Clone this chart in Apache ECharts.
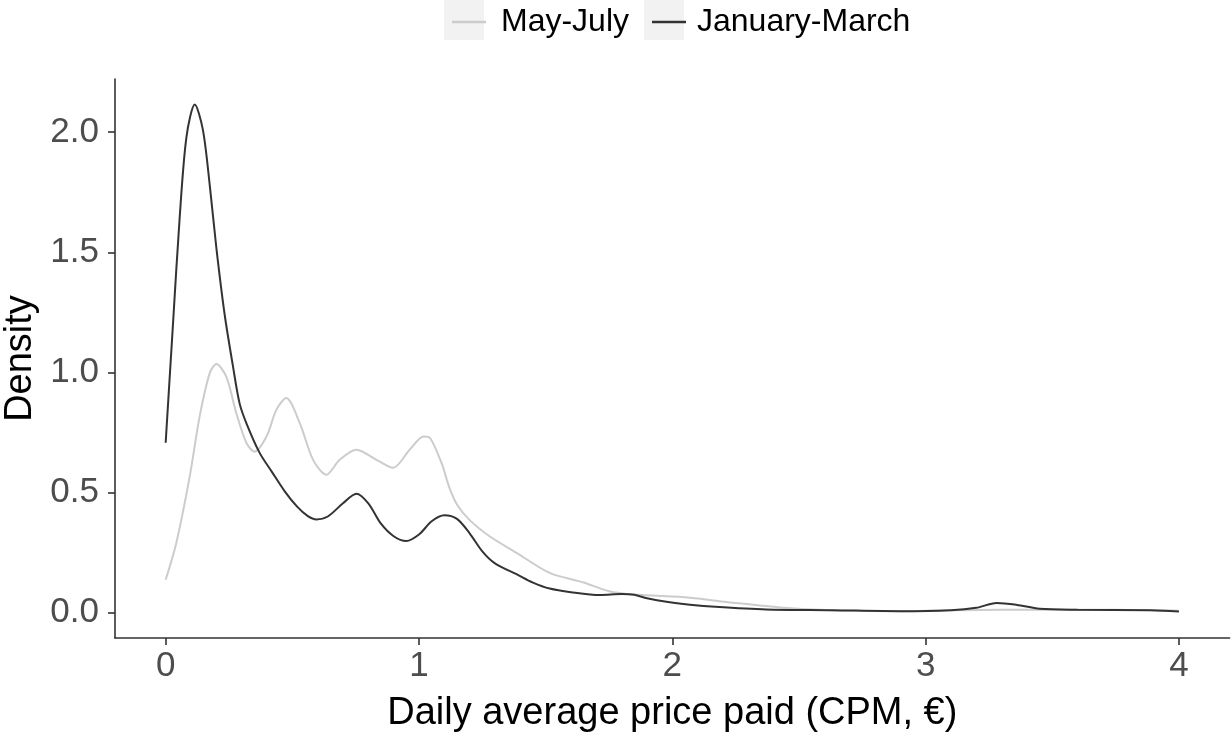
<!DOCTYPE html>
<html>
<head>
<meta charset="utf-8">
<script src="https://cdn.jsdelivr.net/npm/echarts@6/dist/echarts.min.js"></script>
<style>
  html, body { margin: 0; padding: 0; background: #fff; }
  #container1 { width: 1232px; height: 734px; }
</style>
</head>
<body>
<div id="container1"></div>
<script>
// 数据
var xTicks = [0, 1, 2, 3, 4];
var yTicks = [0, 0.5, 1, 1.5, 2];

// May-July
var mayX = [0, 0.042, 0.095, 0.134, 0.174, 0.2, 0.24, 0.279, 0.319, 0.351, 0.398, 0.437, 0.476, 0.529, 0.582, 0.634,
    0.687, 0.753, 0.832, 0.898, 0.963, 1.019, 1.045, 1.09, 1.12, 1.15, 1.2, 1.28, 1.385, 1.516, 1.65, 1.75, 1.85, 2.07,
    2.24, 2.44, 2.63, 2.9, 3.0, 3.3, 3.6, 3.89, 4.0];
var mayY = [0.137, 0.29, 0.567, 0.816, 0.997, 1.035, 0.98, 0.83, 0.706, 0.67, 0.733, 0.844, 0.893, 0.79, 0.636, 0.574,
    0.636, 0.678, 0.636, 0.603, 0.678, 0.733, 0.725, 0.62, 0.52, 0.45, 0.385, 0.317, 0.249, 0.165, 0.125, 0.089, 0.075, 0.062,
    0.041, 0.02, 0.01, 0.006, 0.008, 0.012, 0.012, 0.01, 0.008];

// January-March
var janX = [0, 0.03, 0.055, 0.082, 0.115, 0.147, 0.174, 0.2, 0.233, 0.265, 0.292, 0.32, 0.371, 0.42, 0.47, 0.52,
    0.56, 0.595, 0.64, 0.7, 0.753, 0.8, 0.85, 0.9, 0.95, 1.0, 1.05, 1.1, 1.15, 1.2, 1.25, 1.3, 1.385, 1.45, 1.516,
    1.6, 1.714, 1.8, 1.85, 1.9, 1.977, 2.07, 2.17, 2.37, 2.63, 2.9, 3.1, 3.2, 3.28, 3.36, 3.45, 3.6, 3.89, 4.0];
var janY = [0.707, 1.22, 1.64, 1.98, 2.115, 2.01, 1.78, 1.52, 1.24, 1.03, 0.87, 0.785, 0.665, 0.585, 0.505, 0.44,
    0.403, 0.388, 0.40, 0.455, 0.495, 0.455, 0.37, 0.318, 0.298, 0.325, 0.38, 0.405, 0.39, 0.33, 0.255, 0.205, 0.16, 0.125, 0.10,
    0.085, 0.073, 0.077, 0.074, 0.06, 0.045, 0.033, 0.024, 0.013, 0.01, 0.006, 0.01, 0.02, 0.04, 0.032, 0.016, 0.012, 0.01, 0.005];

function pairs(xs, ys) {
    var out = [];
    for (var i = 0; i < xs.length; i++) {
        out.push([xs[i], ys[i]]);
    }
    return out;
}

var lineIcon = 'path://M0,0H34V2.4H0Z';
var fontName = 'Liberation Sans, Arial, sans-serif';

var myChart = echarts.init(document.getElementById('container1'));
var option = {
    animation: false,
    backgroundColor: '#ffffff',
    textStyle: { fontFamily: fontName },
    graphic: [
        { type: 'rect', left: 444, top: 0, shape: { width: 40, height: 40 }, style: { fill: '#f2f2f2' }, z: -1 },
        { type: 'rect', left: 644, top: 0, shape: { width: 40, height: 40 }, style: { fill: '#f2f2f2' }, z: -1 }
    ],
    legend: [
        {
            data: ['May-July'],
            left: 447, top: 1,
            icon: lineIcon, itemWidth: 34, itemHeight: 3,
            textStyle: { fontSize: 32, color: '#000', padding: [0, 0, 0, 10], fontFamily: fontName }
        },
        {
            data: ['January-March'],
            left: 647, top: 1,
            icon: lineIcon, itemWidth: 34, itemHeight: 3,
            textStyle: { fontSize: 32, color: '#000', padding: [0, 0, 0, 6], fontFamily: fontName }
        }
    ],
    grid: {
        left: 115,
        right: 2.4,
        top: 79,
        bottom: 96,
        containLabel: false,
        outerBoundsMode: 'none'
    },
    xAxis: {
        type: 'value',
        min: -0.2,
        max: 4.2,
        name: 'Daily average price paid (CPM, €)',
        nameLocation: 'middle',
        nameGap: 57,
        nameTextStyle: { fontSize: 38, color: '#000', fontFamily: fontName },
        splitLine: { show: false },
        axisLine: { show: true, onZero: false, lineStyle: { color: '#333', width: 1.6 } },
        axisTick: { show: true, customValues: xTicks, length: 7, lineStyle: { color: '#333', width: 1.6 } },
        axisLabel: {
            customValues: xTicks,
            margin: 11,
            fontSize: 35,
            color: '#4d4d4d',
            fontFamily: fontName
        }
    },
    yAxis: {
        type: 'value',
        min: -0.1058,
        max: 2.2216,
        name: 'Density',
        nameLocation: 'middle',
        nameGap: 74,
        nameRotate: 90,
        nameTextStyle: { fontSize: 38, color: '#000', fontFamily: fontName },
        splitLine: { show: false },
        axisLine: { show: true, onZero: false, lineStyle: { color: '#333', width: 1.6 } },
        axisTick: { show: true, customValues: yTicks, length: 7, lineStyle: { color: '#333', width: 1.6 } },
        axisLabel: {
            customValues: yTicks,
            margin: 16,
            fontSize: 35,
            color: '#4d4d4d',
            fontFamily: fontName,
            formatter: function (v) { return v.toFixed(1); }
        }
    },
    series: [
        {
            name: 'May-July',
            type: 'line',
            data: pairs(mayX, mayY),
            smooth: 0.3,
            showSymbol: false,
            symbol: 'none',
            color: '#cccccc',
            lineStyle: { color: '#cccccc', width: 2 },
            z: 2
        },
        {
            name: 'January-March',
            type: 'line',
            data: pairs(janX, janY),
            smooth: 0.3,
            showSymbol: false,
            symbol: 'none',
            color: '#333333',
            lineStyle: { color: '#333333', width: 2 },
            z: 3
        }
    ]
};
myChart.setOption(option);
</script>
</body>
</html>
